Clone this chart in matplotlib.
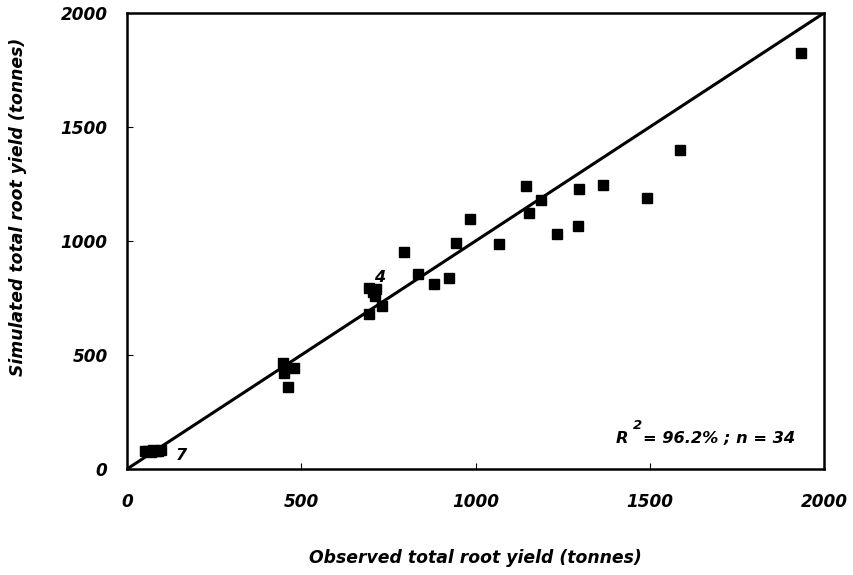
import matplotlib
matplotlib.use("Agg")
import matplotlib.pyplot as plt

# Observed vs simulated total root yield (tonnes)
observed = [52, 60, 68, 75, 82, 90, 97,
            448, 450, 479, 463,
            693, 715, 711, 705, 731, 693,
            794, 835, 880, 923, 945, 984, 1068, 1145, 1154, 1187,
            1234, 1294, 1297, 1367, 1492, 1587, 1933]
simulated = [78, 80, 76, 84, 80, 78, 82,
             466, 423, 442, 360,
             795, 788, 759, 775, 715, 678,
             952, 857, 810, 836, 990, 1096, 988, 1241, 1121, 1181,
             1029, 1066, 1227, 1247, 1190, 1398, 1826]
ticks = [0, 500, 1000, 1500, 2000]
ax_min, ax_max = 0, 2000
stats_text = "= 96.2% ; n = 34"

font = {"family": "DejaVu Sans", "weight": "bold", "style": "italic"}


def f(size):
    return dict(font, size=size)


fig = plt.figure(figsize=(8.54, 5.75), dpi=100)
ax = fig.add_axes([0.1487, 0.1843, 0.8162, 0.7931])

# 1:1 line
ax.plot([ax_min, ax_max], [ax_min, ax_max], color="black", lw=2.2, zorder=2)
ax.plot(observed, simulated, ls="none", marker="s", ms=6.5,
        color="black", zorder=3)

ax.set_xlim(ax_min, ax_max)
ax.set_ylim(ax_min, ax_max)
ax.set_xticks(ticks)
ax.set_yticks(ticks)
ax.set_xticklabels([str(t) for t in ticks], fontdict=f(12.2))
ax.set_yticklabels([str(t) for t in ticks], fontdict=f(12.2))
ax.tick_params(direction="in", length=4, width=0.8)
ax.tick_params(axis="x", pad=17)
ax.tick_params(axis="y", pad=14)
for s in ax.spines.values():
    s.set_linewidth(1.8)

# overlap counts
ax.text(725, 838, "4", fontdict=f(11.5), ha="center", va="center")
ax.text(157, 61, "7", fontdict=f(11.5), ha="center", va="center")

# fit statistics
t_r = ax.text(1401, 136, "R", fontdict=f(11.7), ha="left", va="center")
t_2 = ax.annotate("2", xy=(1, 1), xycoords=t_r, xytext=(3.5, -1),
                  textcoords="offset points", ha="left", va="bottom",
                  **f(9.5))
ax.annotate(stats_text, xy=(1, 0.5), xycoords=(t_2, t_r), xytext=(0.5, 0),
            textcoords="offset points", ha="left", va="center",
            **f(11.7))

fig.text(0.557, 0.03, "Observed total root yield (tonnes)",
         fontdict=f(12.4), ha="center", va="center")
fig.text(0.021, 0.64, "Simulated total root yield (tonnes)",
         fontdict=f(12.4), ha="center", va="center", rotation=90)

fig.savefig("out.png", dpi=100)
